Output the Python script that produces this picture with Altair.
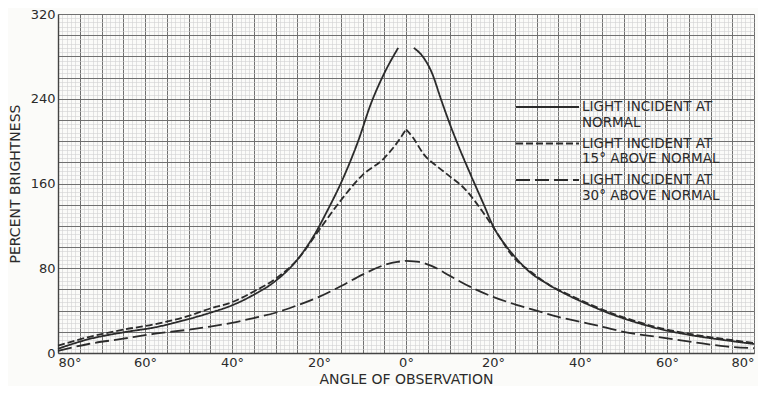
import altair as alt
import pandas as pd

# ---- data ----
SERIES = [
    "LIGHT INCIDENT AT|NORMAL",
    "LIGHT INCIDENT AT|15° ABOVE NORMAL",
    "LIGHT INCIDENT AT|30° ABOVE NORMAL",
]

NORMAL_LEFT_ANGLE = [-80, -73, -65, -58, -50, -45, -40, -35, -30, -25, -21, -18, -15, -11, -8, -5, -1.8]
NORMAL_LEFT_VALUE = [4, 13, 19.5, 24, 32, 38, 45, 55, 68, 88, 112, 135, 160, 200, 236, 264, 288]
NORMAL_RIGHT_ANGLE = [1.8, 4, 6, 8, 10, 12, 15, 18, 20, 23, 25, 28, 33, 37.5, 42, 47, 50.5, 58, 66, 73.5, 80]
NORMAL_RIGHT_VALUE = [288, 279, 264, 240, 217, 196, 167, 139, 120, 101, 91, 78, 64, 54, 45.5, 37, 32, 23, 16.5, 12, 8.5]

DEG15_LEFT_ANGLE = [-80, -73, -65, -58, -50, -45, -40, -35, -30, -25, -20, -15, -10, -5, -2.5, 0]
DEG15_LEFT_VALUE = [7, 15, 22, 27, 35, 42, 48, 58, 70, 88, 116, 144, 168, 184, 196, 211]
DEG15_RIGHT_ANGLE = [0, 1.5, 4, 7.5, 10, 13.5, 17.5, 20.5, 25, 28.3, 33, 37.5, 42, 47, 50.5, 58, 66, 73.5, 80]
DEG15_RIGHT_VALUE = [211, 204, 188, 175, 167, 155, 134, 116, 89, 78, 64, 55, 46.5, 38, 33, 24, 17.5, 13, 9.5]

DEG30_LEFT_ANGLE = [-80, -73, -65, -58, -50, -45, -40, -35, -30, -25, -20, -15, -10, -5, -2, 0]
DEG30_LEFT_VALUE = [2, 8.5, 13.5, 18, 22, 25, 28.5, 33, 38, 45, 53, 63, 74, 83, 86, 87]
DEG30_RIGHT_ANGLE = [0, 3, 6, 10, 15, 20, 25, 30, 35, 40, 45, 50, 58, 66, 73.5, 80]
DEG30_RIGHT_VALUE = [87, 86, 82, 73, 62, 53, 46, 40, 34, 29.5, 25, 20, 15, 10.3, 6.2, 4.5]

X_LABEL_TICKS = [-80, -60, -40, -20, 0, 20, 40, 60, 80]
Y_LABEL_TICKS = [0, 80, 160, 240, 320]
X_GRID = list(range(-80, 81, 5))
Y_GRID = list(range(0, 321, 20))
X_MINOR = list(range(-80, 81, 1))
Y_MINOR = list(range(0, 321, 4))

rows = []
for name, seg, angles, values in [
    (SERIES[0], "L", NORMAL_LEFT_ANGLE, NORMAL_LEFT_VALUE),
    (SERIES[0], "R", NORMAL_RIGHT_ANGLE, NORMAL_RIGHT_VALUE),
    (SERIES[1], "L", DEG15_LEFT_ANGLE, DEG15_LEFT_VALUE),
    (SERIES[1], "R", DEG15_RIGHT_ANGLE, DEG15_RIGHT_VALUE),
    (SERIES[2], "L", DEG30_LEFT_ANGLE, DEG30_LEFT_VALUE),
    (SERIES[2], "R", DEG30_RIGHT_ANGLE, DEG30_RIGHT_VALUE),
]:
    for a, v in zip(angles, values):
        rows.append({"angle": a, "value": v, "series": name, "segment": name + seg})
df = pd.DataFrame(rows)

FONT = "DejaVu Sans"
INK = "#2b2b2b"

xscale = alt.Scale(domain=[-80, 80], nice=False, zero=False)
yscale = alt.Scale(domain=[0, 320], nice=False)

base = alt.Chart(df)

minor = base.mark_line(opacity=0).encode(
    x=alt.X("angle:Q", scale=xscale,
            axis=alt.Axis(orient="top", values=X_MINOR, grid=True, gridColor="#d2d2d2",
                          gridWidth=0.6, labels=False, ticks=False, domain=False, title=None,
                          minExtent=0, maxExtent=0, offset=0)),
    y=alt.Y("value:Q", scale=yscale,
            axis=alt.Axis(orient="right", values=Y_MINOR, grid=True, gridColor="#d2d2d2",
                          gridWidth=0.6, labels=False, ticks=False, domain=False, title=None,
                          minExtent=0, maxExtent=0, offset=0)),
    detail="segment:N",
)

x_label_expr = "indexof(" + str(X_LABEL_TICKS) + ", datum.value) >= 0 ? abs(datum.value) + '°' : ''"
y_label_expr = "indexof(" + str(Y_LABEL_TICKS) + ", datum.value) >= 0 ? datum.label : ''"

main = base.mark_line(color=INK, strokeWidth=1.8, interpolate="monotone").encode(
    x=alt.X("angle:Q", scale=xscale,
            axis=alt.Axis(orient="bottom", values=X_GRID, labelExpr=x_label_expr,
                          title="ANGLE OF OBSERVATION", grid=True, gridColor="#707070",
                          gridWidth=1, ticks=False, labelPadding=3, titlePadding=3,
                          labelFontSize=13, labelFont=FONT, labelColor=INK,
                          titleFont=FONT, titleFontSize=14, titleFontWeight="normal",
                          titleColor=INK, domainColor="#444", domainWidth=1.4,
                          labelOverlap=False, labelFlush=True)),
    y=alt.Y("value:Q", scale=yscale,
            axis=alt.Axis(orient="left", values=Y_GRID, labelExpr=y_label_expr,
                          title="PERCENT BRIGHTNESS", grid=True, gridColor="#707070",
                          gridWidth=1, ticks=False, labelPadding=3, titlePadding=8,
                          labelFontSize=13, labelFont=FONT, labelColor=INK,
                          titleFont=FONT, titleFontSize=14, titleFontWeight="normal",
                          titleColor=INK, domainColor="#444", domainWidth=1.4,
                          labelOverlap=False)),
    strokeDash=alt.StrokeDash(
        "series:N",
        scale=alt.Scale(domain=SERIES, range=[[1, 0], [7, 3], [14, 5]]),
        legend=alt.Legend(
            orient="none", legendX=457, legendY=80, title=None,
            symbolType="stroke", symbolSize=3969, symbolStrokeWidth=1.8,
            symbolStrokeColor=INK, labelExpr="split(datum.label, '|')",
            labelFont=FONT, labelFontSize=13.5, labelColor=INK, labelLimit=300,
            labelOffset=2, clipHeight=26, rowPadding=1.5, labelBaseline="middle",
        ),
    ),
    detail="segment:N",
)

chart = (
    alt.layer(minor, main)
    .resolve_axis(x="independent", y="independent")
    .properties(width=696, height=339, padding={"left": 0, "top": 0, "right": 0, "bottom": 0},
                background="#fbfbf9")
    .configure_view(stroke=None)
)

chart.save("out.html", embed_options={"renderer": "svg", "actions": False})
